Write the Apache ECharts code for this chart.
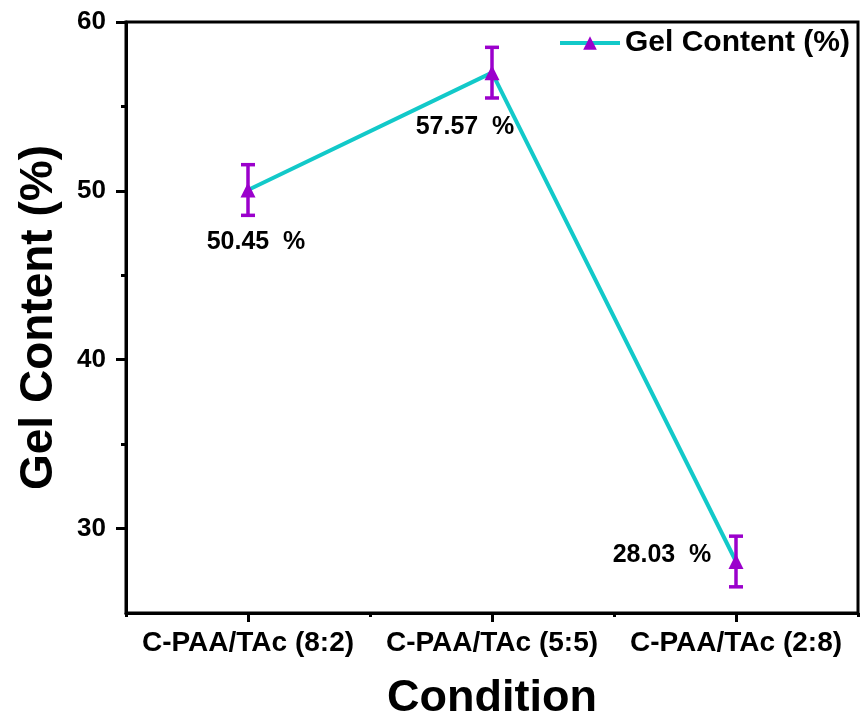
<!DOCTYPE html>
<html>
<head>
<meta charset="utf-8">
<script src="https://cdn.jsdelivr.net/npm/echarts@6/dist/echarts.min.js"></script>
<style>html,body{margin:0;padding:0;background:#fff}#c{width:861px;height:724px}</style>
</head>
<body>
<div id="c"></div>
<script>
const categories = ['C-PAA/TAc (8:2)', 'C-PAA/TAc (5:5)', 'C-PAA/TAc (2:8)'];
const gelValues = [50.05, 57.0, 28.05];
const gelErrors = [1.5, 1.5, 1.5];
const valueLabels = ['50.45  %', '57.57  %', '28.03  %'];
const yMajorTicks = [30, 40, 50, 60];
const yMinorTicks = [35, 45, 55];
const seriesName = 'Gel Content (%)';

const labelOffsets = [[8, 52], [-27, 54], [-74, -6]];
const FONT = "'Liberation Sans', Arial, sans-serif";
const CYAN = '#12c9c9';
const PURPLE = '#9b00cc';

const chart = echarts.init(document.getElementById('c'), null, {renderer: 'canvas'});
const errData = categories.map((c, i) => [i, gelValues[i] - gelErrors[i], gelValues[i] + gelErrors[i]]);
const lblData = categories.map((c, i) => [i, gelValues[i], valueLabels[i]]);

chart.setOption({
  animation: false,
  backgroundColor: '#fff',
  grid: {left: 126, right: 3, top: 22, bottom: 111, show: true, borderColor: '#000', borderWidth: 3,
         backgroundColor: 'transparent', containLabel: false, outerBoundsMode: 'none'},
  legend: {
    data: [seriesName], right: 6, top: 23, itemWidth: 60, itemHeight: 17, itemGap: 10,
    lineStyle: {width: 4, color: CYAN},
    textStyle: {fontFamily: FONT, fontWeight: 'bold', fontSize: 30, color: '#000'}
  },
  xAxis: [{
    type: 'category', data: categories, boundaryGap: true,
    axisLine: {show: true, lineStyle: {color: '#000', width: 3}},
    axisTick: {show: true, inside: false, alignWithLabel: true, length: 9, interval: 0, lineStyle: {color: '#000', width: 3}},
    axisLabel: {show: true, interval: 0, hideOverlap: false, color: '#000', fontFamily: FONT, fontWeight: 'bold', fontSize: 28, margin: 16},
    name: 'Condition', nameLocation: 'middle', nameGap: 63,
    nameTextStyle: {fontFamily: FONT, fontWeight: 'bold', fontSize: 45, color: '#000'}
  }, {
    type: 'category', data: categories, boundaryGap: true, position: 'bottom',
    axisLine: {show: false},
    axisTick: {show: true, inside: false, length: 4, interval: 0, lineStyle: {color: '#000', width: 3}},
    axisLabel: {show: false}
  }],
  yAxis: [{
    type: 'value', min: 25, max: 60,
    splitLine: {show: false},
    axisLine: {show: true, lineStyle: {color: '#000', width: 3}},
    axisTick: {show: true, inside: false, length: 10, customValues: yMajorTicks, lineStyle: {color: '#000', width: 3}},
    axisLabel: {customValues: yMajorTicks, color: '#000', fontFamily: FONT, fontWeight: 'bold', fontSize: 26, margin: 20},
    name: 'Gel Content (%)', nameLocation: 'middle', nameGap: 64,
    nameTextStyle: {fontFamily: FONT, fontWeight: 'bold', fontSize: 46, color: '#000'}
  }, {
    type: 'value', min: 25, max: 60, position: 'left',
    splitLine: {show: false},
    axisLine: {show: false},
    axisTick: {show: true, inside: false, length: 5, customValues: yMinorTicks, lineStyle: {color: '#000', width: 3}},
    axisLabel: {show: false}
  }],
  series: [{
    name: seriesName, type: 'line', data: gelValues,
    symbol: 'triangle', symbolSize: 15,
    lineStyle: {color: CYAN, width: 4},
    itemStyle: {color: PURPLE},
    z: 3
  }, {
    type: 'custom', data: errData, z: 4,
    renderItem: function (params, api) {
      const x = api.value(0);
      const lo = api.coord([x, api.value(1)]);
      const hi = api.coord([x, api.value(2)]);
      const hw = 7;
      const st = {stroke: PURPLE, lineWidth: 3.5};
      return {type: 'group', children: [
        {type: 'line', shape: {x1: lo[0], y1: lo[1], x2: hi[0], y2: hi[1]}, style: st},
        {type: 'line', shape: {x1: lo[0] - hw, y1: lo[1], x2: lo[0] + hw, y2: lo[1]}, style: st},
        {type: 'line', shape: {x1: hi[0] - hw, y1: hi[1], x2: hi[0] + hw, y2: hi[1]}, style: st}
      ]};
    }
  }, {
    type: 'custom', data: lblData, z: 5,
    renderItem: function (params, api) {
      const p = api.coord([api.value(0), api.value(1)]);
      const off = labelOffsets[params.dataIndex];
      return {type: 'text', style: {
        x: p[0] + off[0], y: p[1] + off[1], text: valueLabels[params.dataIndex],
        fill: '#000', font: "bold 25px " + FONT, align: 'center', verticalAlign: 'middle'
      }};
    }
  }]
});
</script>
</body>
</html>
